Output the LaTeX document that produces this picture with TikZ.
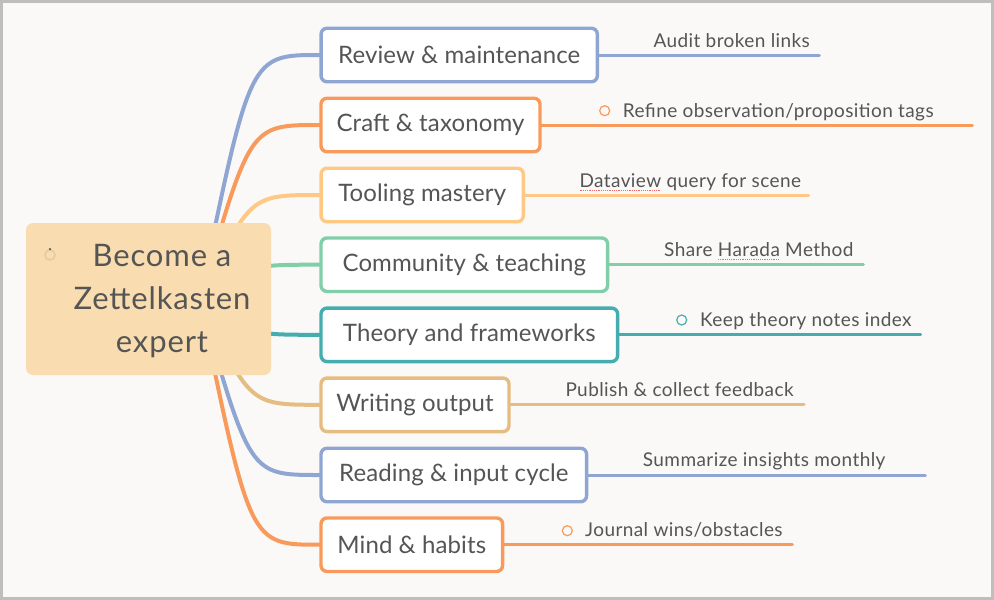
\documentclass[tikz,border=0pt]{standalone}
\usepackage{fontspec}
\setmainfont{Lato}
\definecolor{bgc}{HTML}{FAF9F7}
\definecolor{framec}{HTML}{BEBEBE}
\definecolor{txt}{HTML}{555555}
\definecolor{cblue}{HTML}{8FA6D3}
\definecolor{corange}{HTML}{F89A5C}
\definecolor{clight}{HTML}{FFC985}
\definecolor{cmint}{HTML}{80CFA9}
\definecolor{cteal}{HTML}{45ADB0}
\definecolor{ctan}{HTML}{E5BC82}
\definecolor{rootfill}{HTML}{F9DDB0}
\definecolor{ringc}{HTML}{E3CDA6}
\definecolor{spell}{HTML}{F06A6A}
\newsavebox\spellbox
\newcommand\spellmark[1]{\sbox\spellbox{#1}\rlap{\lower3pt\hbox to\wd\spellbox{\color{spell}\xleaders\hbox to1.8pt{\rule{0.9pt}{0.9pt}\hfil}\hfil}}\usebox\spellbox}
\pgfdeclarelayer{paper}
\pgfdeclarelayer{edges}
\pgfsetlayers{paper,edges,main}
\tikzset{
  conn/.style={line width=4pt, line cap=round},
  leafline/.style={line width=3pt, line cap=round},
  branchbox/.style={draw, fill=white, rounded corners=6pt, line width=3.4pt,
    minimum height=53.5pt, inner xsep=0pt, text=txt,
    font=\fontsize{24}{28}\selectfont\addfontfeature{LetterSpace=0.5}},
  leaftext/.style={anchor=base west, inner sep=0pt, text=txt,
    font=\fontsize{19}{22}\selectfont\addfontfeature{LetterSpace=2.2}},
  dotmark/.style={circle, draw, line width=1.2pt, minimum size=10pt, inner sep=0pt},
}
\begin{document}
\begin{tikzpicture}[x=1pt,y=-1pt]
\useasboundingbox (0,0) rectangle (994,600);
\begin{pgfonlayer}{paper}
\fill[bgc] (0,0) rectangle (994,600);
\draw[framec, line width=2.6pt] (1.3,1.3) rectangle (992.7,598.5);
\end{pgfonlayer}

\coordinate (hub) at (200,300);
% branch boxes
\node[branchbox, draw=cblue,   minimum width=276.3pt] (b1) at (459.2,55)  {Review \& maintenance};
\node[branchbox, draw=corange, minimum width=219pt]   (b2) at (430.5,125) {Craft \& taxonomy};
\node[branchbox, draw=clight,  minimum width=202.3pt] (b3) at (422.2,195) {Tooling mastery};
\node[branchbox, draw=cmint,   minimum width=286.6pt] (b4) at (464.3,264.7) {Community \& teaching};
\node[branchbox, draw=cteal,   minimum width=296.6pt] (b5) at (469.3,334.8) {Theory and frameworks};
\node[branchbox, draw=ctan,    minimum width=188pt]   (b6) at (415,404.8) {Writing output};
\node[branchbox, draw=cblue,   minimum width=265.6pt] (b7) at (453.8,475) {Reading \& input cycle};
\node[branchbox, draw=corange, minimum width=181.6pt] (b8) at (411.8,544.7) {Mind \& habits};

% root
\node[fill=rootfill, rounded corners=7pt, minimum width=245pt, minimum height=152pt,
  label={[text=txt, align=center, font=\fontsize{31}{43}\selectfont\addfontfeature{LetterSpace=2.8}, xshift=13.5pt, yshift=-2pt]center:Become a\\Zettelkasten\\expert}]
  (root) at (148.5,299) {};
\node[circle, draw=ringc, line width=1.8pt, minimum size=10pt, inner sep=0pt] (rootmark) at (50,255) {};
\fill[txt] (rootmark.north) circle (1.3pt);

% leaf end points
\coordinate (e1) at (819.3,55);
\coordinate (e2) at (972.3,125);
\coordinate (e3) at (808.7,195);
\coordinate (e4) at (863.3,264.7);
\coordinate (e5) at (920.7,334.8);
\coordinate (e6) at (804,404.8);
\coordinate (e7) at (925.3,475);
\coordinate (e8) at (792.3,544.7);

\begin{pgfonlayer}{edges}
\draw[conn, cblue]   (hub) .. controls (250,55)    .. (b1.west);
\draw[conn, corange] (hub) .. controls (250,125)   .. (b2.west);
\draw[conn, clight]  (hub) .. controls (250,195)   .. (b3.west);
\draw[conn, cmint]   (hub) .. controls (250,264.7) .. (b4.west);
\draw[conn, cteal]   (hub) .. controls (250,334.8) .. (b5.west);
\draw[conn, ctan]    (hub) .. controls (250,404.8) .. (b6.west);
\draw[conn, cblue]   (hub) .. controls (250,475)   .. (b7.west);
\draw[conn, corange] (hub) .. controls (250,544.7) .. (b8.west);
\draw[leafline, cblue]   (b1.east) -- (e1);
\draw[leafline, corange] (b2.east) -- (e2);
\draw[leafline, clight]  (b3.east) -- (e3);
\draw[leafline, cmint]   (b4.east) -- (e4);
\draw[leafline, cteal]   (b5.east) -- (e5);
\draw[leafline, ctan]    (b6.east) -- (e6);
\draw[leafline, cblue]   (b7.east) -- (e7);
\draw[leafline, corange] (b8.east) -- (e8);
\end{pgfonlayer}

% leaf texts
\node[leaftext] (l1) at (653.3,47.3) {Audit broken links};
\node[dotmark, draw=corange] (m2) at (604.7,110.7) {};
\node[leaftext] (l2) at (622.7,117.3) {Refine observation/proposition tags};
\node[leaftext] (l3) at (579.3,187.7) {\spellmark{Dataview} query for scene};
\node[leaftext] (l4) at (664,256.7) {Share \spellmark{Harada} Method};
\node[dotmark, draw=cteal] (m5) at (681.7,320) {};
\node[leaftext] (l5) at (700,326) {Keep theory notes index};
\node[leaftext] (l6) at (565.3,396.7) {Publish \& collect feedback};
\node[leaftext] (l7) at (642.7,466.7) {Summarize insights monthly};
\node[dotmark, draw=corange] (m8) at (567.3,530.7) {};
\node[leaftext] (l8) at (585,536) {Journal wins/obstacles};
\end{tikzpicture}
\end{document}
